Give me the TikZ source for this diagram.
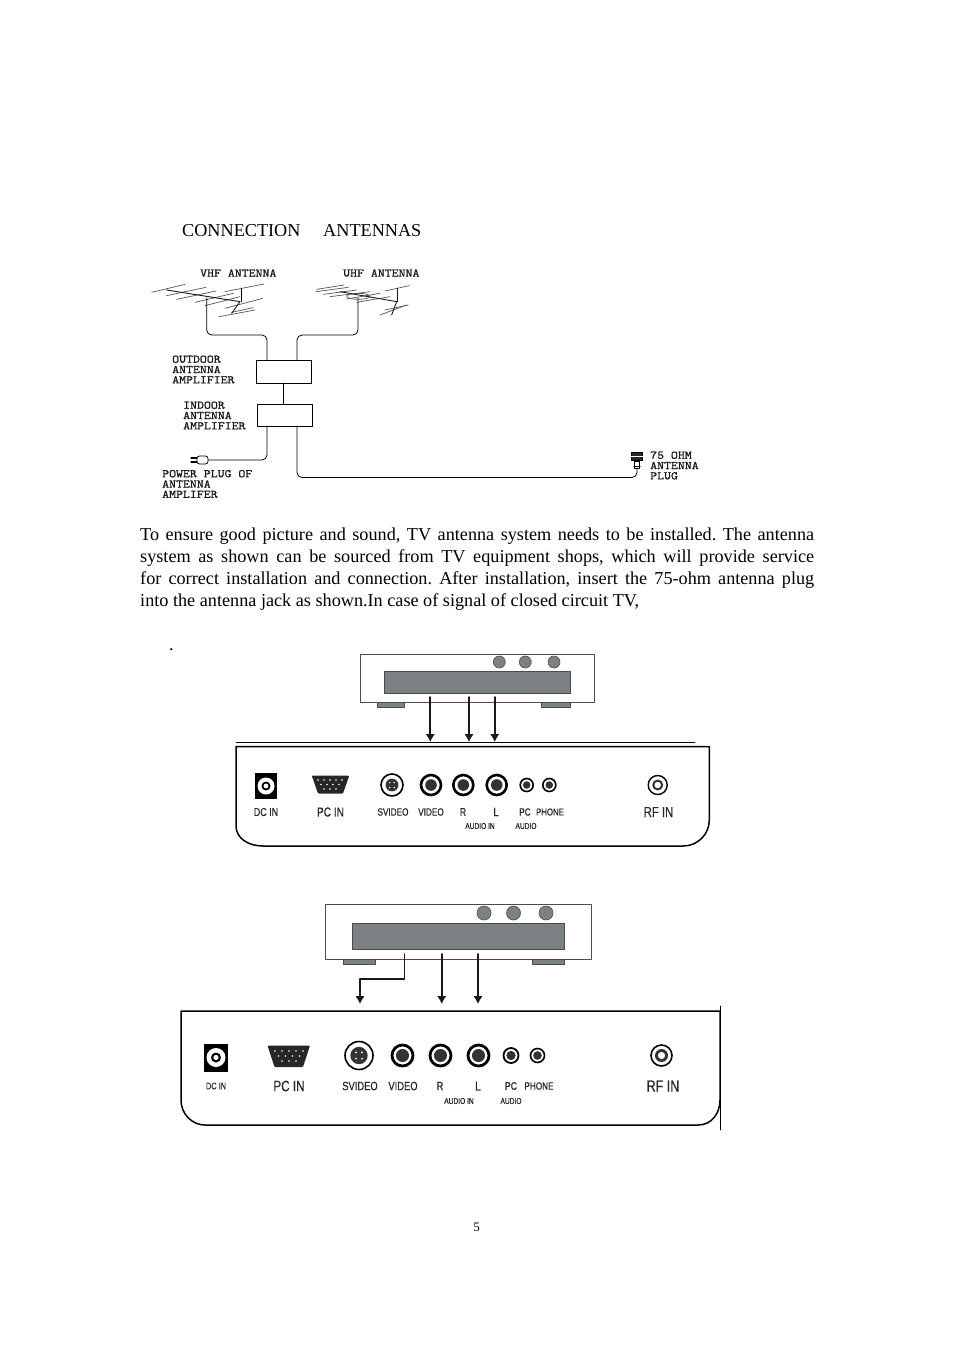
\documentclass[tikz,border=0pt]{standalone}
\usepackage{fontspec}
\setmainfont{Liberation Serif}
\newfontfamily\panelfont[FakeStretch=0.78,FakeBold=0.4]{Liberation Sans}
\newfontfamily\pixfont[FakeStretch=1.17,FakeBold=1.2]{Latin Modern Mono}
\usepackage{tikz}
\usetikzlibrary{arrows.meta,calc,positioning}
\definecolor{devgray}{HTML}{7C8183}
\definecolor{devline}{HTML}{4A4E50}
\definecolor{aerial}{HTML}{555555}
\frenchspacing
\tikzset{
  >={Latex[length=2.1mm,width=1.4mm]},
  every picture/.style={line cap=round, line join=round},
  body/.style={font=\fontsize{18.2}{22}\selectfont, inner sep=0pt, anchor=base west},
  pixlbl/.style={font=\pixfont\fontsize{11.5}{10.3}\selectfont, align=left, anchor=west, inner sep=0pt, text=black!90},
  amp/.style={draw=black, fill=white, line width=0.6pt, minimum width=54.5pt, minimum height=22.5pt, inner sep=0pt, anchor=north west},
  wire/.style={black, line width=0.8pt, rounded corners=5pt},
  element/.style={aerial, line width=0.7pt},
  boom/.style={black!90, line width=0.9pt},
  case/.style={draw=devline, fill=white, line width=1pt},
  screen/.style={draw=black!70, fill=devgray, line width=0.8pt},
  foot/.style={draw=black!70, fill=devgray, line width=0.8pt},
  knob/.style={circle, draw=black!70, fill=devgray, line width=0.6pt, inner sep=0pt},
  feed/.style={black!90, line width=1.9pt, -{Latex[length=8pt,width=9.5pt]}},
  panel/.style={draw=black, line width=1.5pt},
  jack/.style={circle, draw=black, fill=white, inner sep=0pt},
  plbl/.style={font=\panelfont\fontsize{10.5}{11}\selectfont, inner sep=0pt, text=black!85},
  tinylbl/.style={font=\panelfont\fontsize{8.5}{9}\selectfont, inner sep=0pt, text=black!85},
}
\begin{document}
\begin{tikzpicture}[x=1pt, y=-1pt]
\useasboundingbox (0,0) rectangle (954,1350);

\node[body] (title) at (182,236) {CONNECTION\hspace{1.25em}ANTENNAS};

% antennas, coordinates as in the 3x crop
\begin{scope}[shift={(140,255)}, x=0.3333pt, y=-0.3333pt]
  \foreach \a/\b/\c/\d in {35/112/135/88, 80/122/198/97, 110/133/228/108, 165/142/280/115, 195/152/300/125,
      255/110/372/87, 255/160/368/130, 238/185/345/165, 275/172/340/158} {
    \draw[element] (\a,\b) -- (\c,\d);
  }
  \draw[boom] (80,105) -- (300,140) -- (275,175);
  \draw[black, line width=1.4pt] (305,100) -- (305,140);
  \foreach \a/\b/\c/\d in {530/103/612/90, 528/110/625/97, 550/118/650/105, 570/125/690/110, 620/132/720/115,
      650/142/750/125, 735/108/808/92, 720/180/800/150, 735/165/805/150} {
    \draw[element] (\a,\b) -- (\c,\d);
  }
  \draw[boom] (600,110) -- (770,140) -- (755,180);
  \draw[boom] (772,100) -- (772,140);
  \draw[element] (655,124) ellipse (35 and 9);
\end{scope}
\node[pixlbl] (vhflbl) at (200,273) {VHF ANTENNA};
\node[pixlbl] (uhflbl) at (343,273) {UHF ANTENNA};
\node[pixlbl] (outlbl) at (172,369.5) {OUTDOOR\\ANTENNA\\AMPLIFIER};
\node[pixlbl] (inlbl) at (183,415.5) {INDOOR\\ANTENNA\\AMPLIFIER};
\node[pixlbl] (powlbl) at (162,484) {POWER PLUG OF\\ANTENNA\\AMPLIFER};
\node[pixlbl] (ohmlbl) at (650,465.5) {75 OHM\\ANTENNA\\PLUG};

\node[amp] (outdoor) at (256,360) {};
\node[amp] (indoor) at (257,403.5) {};
\coordinate (vhfmast) at (206.7,298);
\coordinate (uhfmast) at (358,298);
\coordinate (vhfin) at (267,360);
\coordinate (uhfin) at (297,360);
\coordinate (plugout) at (267,426);
\coordinate (antout) at (297,426);
\draw[wire] (vhfmast) -- (206.7,335) -- (267,335) -- (vhfin);
\draw[wire] (uhfmast) -- (358,335) -- (297,335) -- (uhfin);
\draw[wire] (outdoor.south -| 283,0) -- (indoor.north -| 283,0);

% power plug
\node[draw=black, fill=white, line width=0.8pt, rounded corners=2.5pt, minimum width=11pt, minimum height=8pt, inner sep=0pt] (powerplug) at (202.5,460) {};
\draw[black, line width=1.1pt] (191,458) -- (powerplug.west |- 0,458) (191,462) -- (powerplug.west |- 0,462);
\draw[wire] (plugout) -- (267,460) -- (powerplug.east);

% 75 ohm plug
\node[draw=black, fill=black!85, minimum width=11pt, minimum height=8pt, inner sep=0pt] (ohmplug) at (637,456) {};
\node[draw=black, fill=white, line width=0.9pt, minimum width=5.5pt, minimum height=7pt, inner sep=0pt, below=1pt of ohmplug] (ohmtail) {};
\draw[white, line width=0.6pt] (ohmplug.west) -- (ohmplug.east);
\draw[black, line width=0.8pt] (ohmtail.west |- 0,466) -- (ohmtail.east |- 0,466);
\draw[wire] (antout) -- (297,477.5) -- (637,477.5) [sharp corners] -- (ohmtail.south);

\node[body, text width=674pt, align=justify, anchor=north west] (para) at (140,528) {To ensure good picture and sound, TV antenna system needs to be installed. The antenna\linebreak
system as shown can be sourced from TV equipment shops, which will provide service\linebreak
for correct installation and connection. After installation, insert the 75-ohm antenna plug\linebreak
into the antenna jack as shown.In case of signal of closed circuit TV,};
\node[body] (dot) at (169,650) {.};

% first player
\foreach \a/\b in {377/404.5, 541.5/570} \draw[foot] (\a,702) rectangle (\b,707);
\draw[case] (360.7,654.3) rectangle (594,702.3);
\draw[screen] (384.3,671) rectangle (570,693.3);
\foreach \x [count=\k] in {499.3,525.3,554} \node[knob, minimum size=12pt] (knoba\k) at (\x,662) {};
\foreach \x [count=\k] in {430.3,469,494.7} {
  \coordinate (outa\k) at (\x,697);
  \coordinate (ina\k) at (\x,742);
  \draw[feed] (outa\k) -- (ina\k);
}

% first panel
\draw[black, line width=0.8pt] (236,742.7) -- (695,742.7);
\draw[panel] (236,746.7) -- (709.3,746.7) -- (709.3,820) .. controls (709.3,834) and (698,846) .. (683,846)
  -- (263,846) .. controls (248,846) and (236,838) .. (236,826) -- cycle;
\fill[black] (255,772.7) rectangle (276.7,799.3);
\node[circle, fill=white, minimum size=17pt, inner sep=0pt] (dca) at (266,786) {};
\fill[black] (dca) circle (4.5); \fill[white] (dca) circle (2.4);
\fill[black!85, rounded corners=1pt] (311.7,775.5) -- (349.3,775.5) -- (343,793.5) -- (318,793.5) -- cycle;
\foreach \x in {318,324,330,336,342} \fill[white] (\x,780) circle (0.8);
\foreach \x in {321,327,333,339} \fill[white] (\x,784.5) circle (0.8);
\foreach \x in {324,330,336} \fill[white] (\x,789) circle (0.8);
\foreach \n/\x/\r/\t in {svid/392/11/1.6, vida/431/10/2.6, rina/463.3/10/2.6, lina/496.7/10/2.6,
    pcaud/526.7/6.5/1.6, phon/549.3/6.5/1.6, rfa/657.7/9.5/1.4} {
  \node[jack, line width=\t pt, minimum size=2*\r pt] (\n) at (\x,785) {};
  \fill[black!80] (\n) circle ({0.58*\r});
}
\fill[white] (rfa) circle (3.2);
\foreach \dx/\dy in {-2.2/-2.5, 2.2/-2.5, -2.2/2.5, 2.2/2.5} \fill[white] ($(svid)+(\dx,\dy)$) circle (0.8);
\foreach \n/\t/\x/\f in {dclbla/DC IN/266/11.5, pclbla/PC IN/330.5/13, svlbla/SVIDEO/393/10.5, vlbla/VIDEO/431/10.5,
    rlbla/R/463/11, llbla/L/496/12, pcalbla/PC/525/10.5, phlbla/PHONE/550/10} {
  \node[plbl, font=\panelfont\fontsize{\f}{12}\selectfont] (\n) at (\x,812) {\t};
}
\node[plbl, font=\panelfont\fontsize{14.5}{15}\selectfont] (rflbla) at (658.5,812) {RF IN};
\node[tinylbl] (ainlbla) at (480,826) {AUDIO IN};
\node[tinylbl] (aulbla) at (526,826) {AUDIO};

% second player
\foreach \a/\b in {343.3/375, 532/564.7} \draw[foot] (\a,959.5) rectangle (\b,964.7);
\draw[case] (325,904.3) rectangle (591.7,959.5);
\draw[screen] (352,923.3) rectangle (564.7,949);
\foreach \x [count=\k] in {484,513.5,546} \node[knob, minimum size=14pt] (knobb\k) at (\x,913) {};
\coordinate (outb1) at (404.5,954);
\coordinate (inb1) at (360,1004);
\draw[feed] (outb1) |- (360,979) -- (inb1);
\foreach \x [count=\k from 2] in {441.7,478} {
  \coordinate (outb\k) at (\x,954);
  \coordinate (inb\k) at (\x,1004);
  \draw[feed] (outb\k) -- (inb\k);
}

% second panel
\draw[panel] (181,1011) -- (720,1011) -- (720,1100) .. controls (720,1113) and (712,1125) .. (698,1125)
  -- (205,1125) .. controls (192,1125) and (181,1114) .. (181,1100) -- cycle;
\draw[black, line width=0.8pt] (720,1006) -- (720,1130);
\fill[black] (204,1043.5) rectangle (228,1072);
\node[circle, fill=white, minimum size=19pt, inner sep=0pt] (dcb) at (216,1057.5) {};
\fill[black] (dcb) circle (5); \fill[white] (dcb) circle (2.6);
\fill[black!85, rounded corners=1pt] (267.5,1045.5) -- (310,1045.5) -- (303,1067) -- (274.5,1067) -- cycle;
\foreach \x in {275,282,289,296,303} \fill[white] (\x,1051) circle (0.9);
\foreach \x in {278.5,285.5,292.5,299.5} \fill[white] (\x,1056) circle (0.9);
\foreach \x in {282,289,296} \fill[white] (\x,1061) circle (0.9);
\foreach \n/\x/\r/\t in {svidb/359/14/1.6, vidb/402.5/10.5/2.8, rinb/440.5/10.5/2.8, linb/478.5/10.5/2.8,
    pcaudb/511/7.5/1.8, phonb/537.5/7/1.6, rfb/661.5/10.5/1.6} {
  \node[jack, line width=\t pt, minimum size=2*\r pt] (\n) at (\x,1055.5) {};
  \fill[black!80] (\n) circle ({0.62*\r});
}
\fill[white] (rfb) circle (3.6);
\foreach \dx/\dy in {-3/-3.2, 3/-3.2, -3/3.2, 3/3.2} \fill[white] ($(svidb)+(\dx,\dy)$) circle (1);
\foreach \n/\t/\x/\f in {dclblb/DC IN/216/9.5, pclblb/PC IN/289/15, svlblb/SVIDEO/360/12, vlblb/VIDEO/403/12,
    rlblb/R/440/12, llblb/L/478/13, pcalblb/PC/511/11, phlblb/PHONE/539/10.5, rflblb/RF IN/663/16} {
  \node[plbl, font=\panelfont\fontsize{\f}{12}\selectfont] (\n) at (\x,1086) {\t};
}
\node[tinylbl] (ainlblb) at (459,1101) {AUDIO IN};
\node[tinylbl] (aulblb) at (511,1101) {AUDIO};

\node[font=\fontsize{13}{15}\selectfont, inner sep=0pt] (pageno) at (476.5,1227.5) {5};
\end{tikzpicture}
\end{document}
